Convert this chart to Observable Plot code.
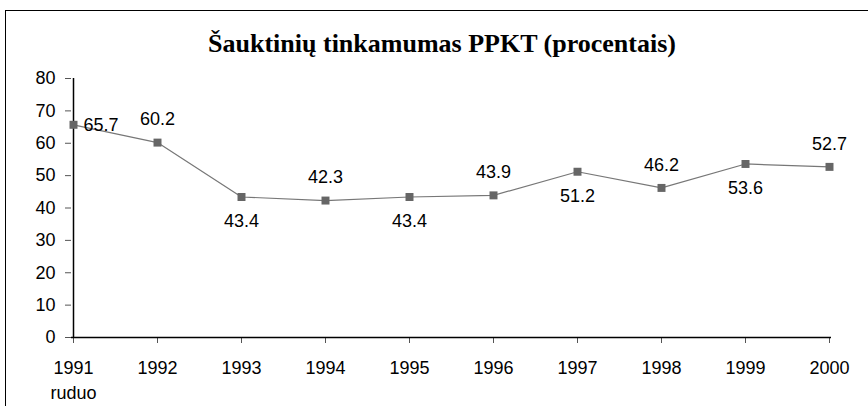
<!DOCTYPE html>
<html>
<head>
<meta charset="utf-8">
<script src="https://cdn.jsdelivr.net/npm/d3@7"></script>
<script src="https://cdn.jsdelivr.net/npm/@observablehq/plot@0.6"></script>
<style>
  html, body { margin: 0; padding: 0; background: #fff; }
  #wrap { position: relative; width: 868px; height: 406px; overflow: hidden; }
  #frame { position: absolute; left: 5px; top: 10px; width: 900px; height: 500px; border-top: 1.5px solid #000; border-left: 1.5px solid #000; }
  #title { position: absolute; left: 0; top: 31px; width: 884px; text-align: center; font-family: "Liberation Serif", "Times New Roman", serif; font-weight: bold; font-size: 26px; color: #000; line-height: 1; }
  #chart { position: absolute; left: 0; top: 0; }
</style>
</head>
<body>
<div id="wrap">
  <div id="frame"></div>
  <div id="title">Šauktinių tinkamumas PPKT (procentais)</div>
  <div id="chart"></div>
</div>
<script>
const years = ["1991", "1992", "1993", "1994", "1995", "1996", "1997", "1998", "1999", "2000"];
const yearLabels = ["1991\nruduo", "1992", "1993", "1994", "1995", "1996", "1997", "1998", "1999", "2000"];
const values = [65.7, 60.2, 43.4, 42.3, 43.4, 43.9, 51.2, 46.2, 53.6, 52.7];
const labelPos = ["right", "above", "below", "above", "below", "above", "below", "above", "below", "above"];
const yTicks = [0, 10, 20, 30, 40, 50, 60, 70, 80];

const data = years.map((y, i) => ({year: y, value: values[i], pos: labelPos[i]}));
const font = "Liberation Sans, Arial, sans-serif";
const fs = 18;

const plot = Plot.plot({
  width: 868,
  height: 406,
  marginLeft: 71,
  marginRight: 37,
  marginTop: 78,
  marginBottom: 69,
  style: {fontFamily: font, fontSize: fs + "px", color: "#000", background: "transparent", overflow: "visible"},
  x: {type: "point", domain: years, padding: 0},
  y: {domain: [0, 80]},
  marks: [
    Plot.axisY({ticks: yTicks, tickSize: 6, tickPadding: 10, stroke: "#555", fill: "#000", label: null, fontSize: fs}),
    Plot.axisX({tickSize: 6, tickPadding: 13, stroke: "#555", fill: "#000", label: null, fontSize: fs, lineHeight: 1.39,
      tickFormat: (d) => yearLabels[years.indexOf(d)]}),
    Plot.ruleX([years[0]], {y1: 0, y2: 80, stroke: "#000", strokeWidth: 1.5}),
    Plot.ruleY([0], {stroke: "#000", strokeWidth: 1.5}),
    Plot.line(data, {x: "year", y: "value", stroke: "#777", strokeWidth: 1.2}),
    Plot.dot(data, {x: "year", y: "value", symbol: "square", r: 4.5, fill: "#666", stroke: "none"}),
    Plot.text(data.filter(d => d.pos === "right"), {x: "year", y: "value", text: d => d.value.toFixed(1), textAnchor: "start", dx: 10, fontSize: fs, fill: "#000"}),
    Plot.text(data.filter(d => d.pos === "above"), {x: "year", y: "value", text: d => d.value.toFixed(1), dy: -23, fontSize: fs, fill: "#000"}),
    Plot.text(data.filter(d => d.pos === "below"), {x: "year", y: "value", text: d => d.value.toFixed(1), dy: 24, fontSize: fs, fill: "#000"})
  ]
});
document.getElementById("chart").appendChild(plot);
</script>
</body>
</html>
